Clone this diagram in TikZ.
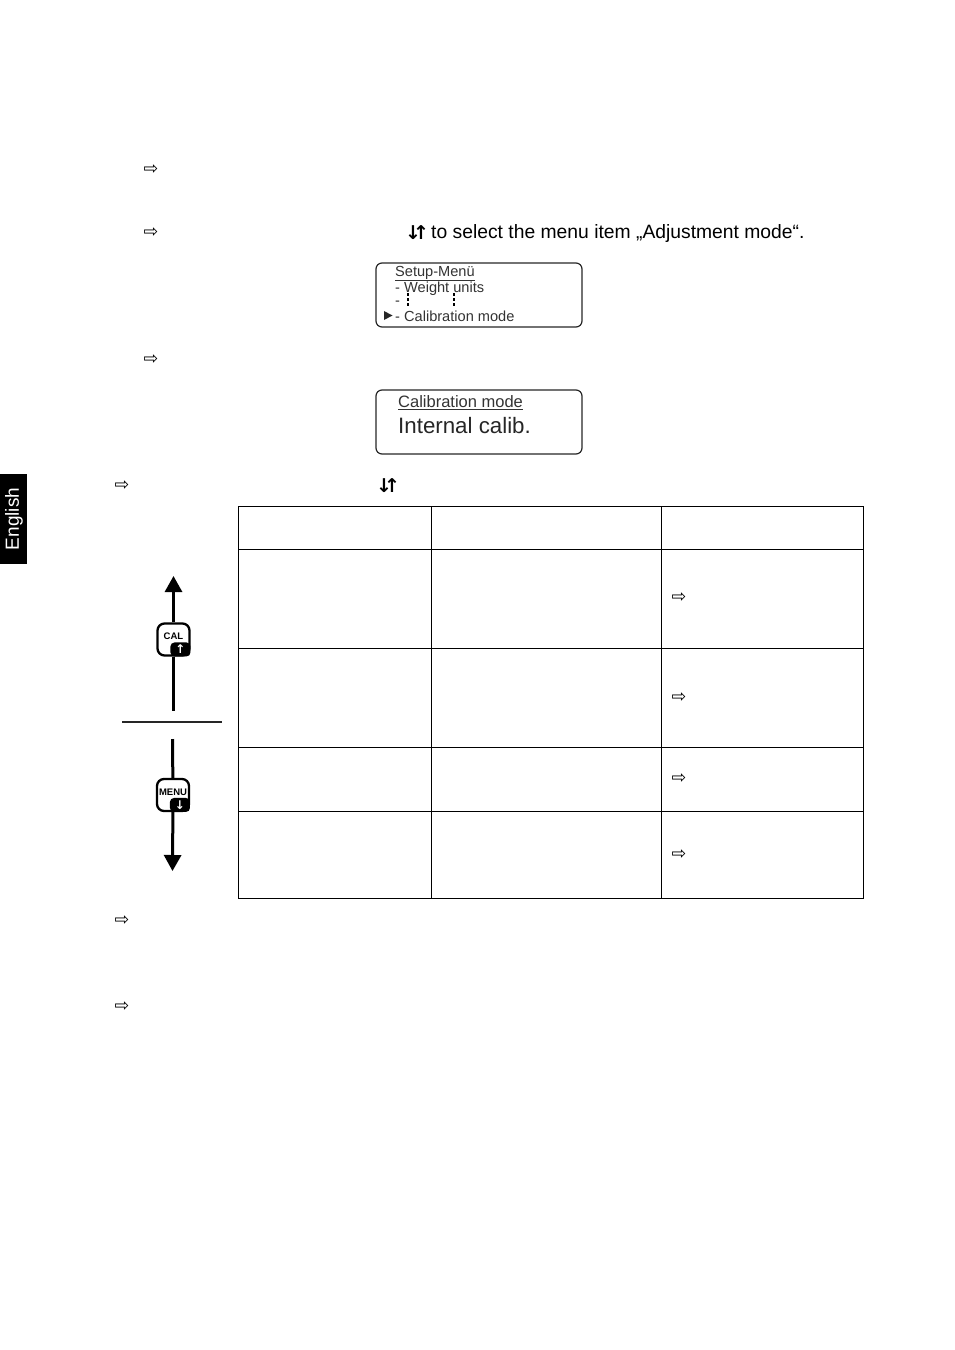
\documentclass[tikz,border=0pt]{standalone}
\usepackage{fontspec}
\usepackage{xcolor}
\setmainfont{Liberation Sans}
\newfontfamily\symfont{DejaVu Sans}
\usetikzlibrary{arrows.meta}
\tikzset{
    bodytext/.style={anchor=west, inner sep=0pt, font=\fontsize{19.3}{21}\selectfont},
    handmark/.style={inner sep=0pt, font=\symfont\fontsize{17.5}{17.5}\selectfont},
    updown/.style={inner sep=0pt, font=\symfont\bfseries\fontsize{19}{19}\selectfont},
    display/.style={draw=black!85, line width=1.2pt, rounded corners=6pt},
    smallline/.style={anchor=west, inner sep=0pt, text=black!80, font=\fontsize{14.6}{15}\selectfont},
    keybutton/.style={draw, fill=white, line width=2.3pt, rounded corners=7pt, minimum width=32pt, minimum height=32pt, inner sep=0pt, font=\bfseries\fontsize{9.5}{10}\selectfont},
    keycorner/.style={fill=black, rounded corners=4pt, text=white, minimum width=20pt, minimum height=14pt, inner sep=0pt, font=\symfont\bfseries\fontsize{12}{12}\selectfont},
    keyline/.style={line width=3pt},
    keyarrow/.style={line width=3pt, -{Triangle[length=16pt, width=17pt]}},
    tablegrid/.style={line width=0.9pt}
}
\begin{document}
\begin{tikzpicture}[x=1pt, y=-1pt]
    \useasboundingbox (0,0) rectangle (954,1350);

    % Language tab
    \node[fill=black, text=white, minimum width=27pt, minimum height=90pt, inner sep=0pt] (tab) at (13.5,519) {};
    \node[rotate=90, text=white, inner sep=0pt, font=\fontsize{19}{21}\selectfont] (tablabel) at (14,519) {English};

    % Step marks
    \foreach \x/\y in {151/170, 151/233, 151/360, 122/486, 679/598, 679/698, 679/779, 679/855, 122/921, 122/1007} {
        \node[handmark] at (\x,\y) {⇨};
    }

    % Text of the second step
    \node[updown] (selectkeys) at (417,233) {↓\kern-8pt↑};
    \node[bodytext] (selecttext) at (431,233.5) {to select the menu item „Adjustment mode“.};
    \node[updown] (tablekeys) at (388,486) {↓\kern-8pt↑};

    % First display
    \draw[display] (376,263) rectangle (582,327);
    \node[smallline] (menutitle) at (395,273.5) {\underline{Setup-Menü}};
    \node[smallline] (menuunits) at (395,289) {- Weight units};
    \node[smallline] (menudash) at (395,303) {-};
    \node[smallline] (menucalib) at (395,316) {- Calibration mode};
    \draw[dashed, line width=1.2pt, dash pattern=on 3pt off 2pt] (408,293) -- (408,307);
    \draw[dashed, line width=1.2pt, dash pattern=on 3pt off 2pt] (454,293) -- (454,307);
    \fill[black!85] (384,311) -- (392.5,315.5) -- (384,320) -- cycle;

    % Second display
    \draw[display] (376,390) rectangle (582,454);
    \node[anchor=west, inner sep=0pt, text=black!80, font=\fontsize{16.5}{18}\selectfont] (calibtitle) at (398,403) {\underline{Calibration mode}};
    \node[anchor=west, inner sep=0pt, text=black!85, font=\fontsize{22.3}{25}\selectfont] (calibvalue) at (398,425.5) {Internal calib.};

    % Table
    \draw[tablegrid] (238,506) rectangle (863,898);
    \foreach \y in {549, 648, 747, 811} {
        \draw[tablegrid] (238,\y) -- (863,\y);
    }
    \foreach \x in {431, 661} {
        \draw[tablegrid] (\x,506) -- (\x,898);
    }

    % Keys and arrows
    \node[keybutton, text depth=6pt] (calkey) at (173.5,639.5) {CAL};
    \node[keycorner, anchor=south east] (calcorner) at (calkey.south east) {↑};
    \coordinate (caltip) at (173.5,576);
    \coordinate (calfoot) at (173.5,711);
    \draw[keyarrow] (calkey) -- (caltip);
    \draw[keyline] (calkey) -- (calfoot);

    \node[keybutton, text depth=6pt] (menukey) at (173,795) {MENU};
    \node[keycorner, anchor=south east] (menucorner) at (menukey.south east) {↓};
    \coordinate (menutop) at (172.5,739);
    \coordinate (menutip) at (172.5,871);
    \draw[keyline] (menutop) -- (menukey);
    \draw[keyarrow] (menukey) -- (menutip);

    % Separator
    \draw[line width=1.2pt, black!85] (122,722) -- (222,722);
\end{tikzpicture}
\end{document}
